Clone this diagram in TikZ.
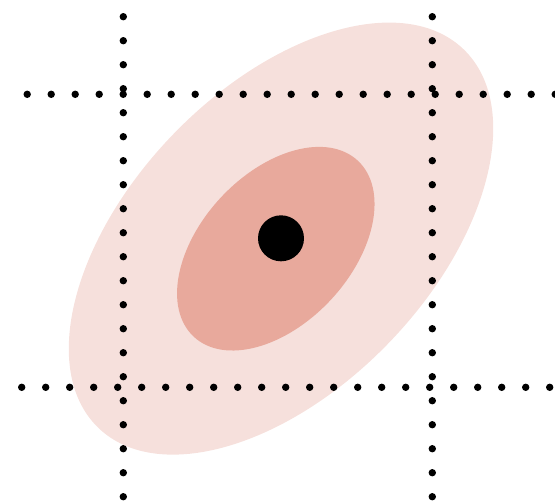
\documentclass[tikz,border=0pt]{standalone}
\definecolor{outerpink}{RGB}{246,224,220}
\definecolor{innerpink}{RGB}{232,169,156}
\tikzset{griddot/.style={fill=black}}
\begin{document}
\begin{tikzpicture}[x=1pt,y=-1pt]
\useasboundingbox (0,0) rectangle (555,504);
\fill[outerpink] (281,238.6) ellipse[x radius=263, y radius=150, rotate=46];
\fill[innerpink] (275.8,248.7) ellipse[x radius=120.3, y radius=75.1, rotate=47];
% vertical dotted lines
\foreach \k in {0,...,20}{
  \fill[griddot] (123.3,16.7+24*\k) circle (3.7);
  \fill[griddot] (432.3,16.7+24*\k) circle (3.7);
}
% horizontal dotted lines
\foreach \k in {0,...,22}{
  \fill[griddot] (27.2+24*\k,94.3) circle (3.7);
  \fill[griddot] (21.7+24*\k,387.3) circle (3.7);
}
\fill[black] (281,238.3) circle (23);
\end{tikzpicture}
\end{document}
